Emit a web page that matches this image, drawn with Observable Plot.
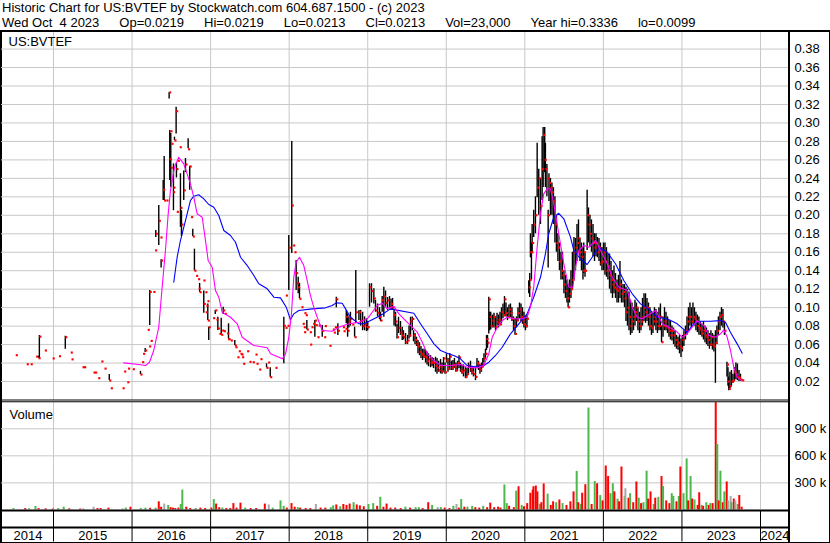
<!DOCTYPE html>
<html><head><meta charset="utf-8">
<script src="https://cdn.jsdelivr.net/npm/d3@7"></script>
<script src="https://cdn.jsdelivr.net/npm/@observablehq/plot@0.6"></script>
<style>
body{margin:0;background:#fff;}
#chart{position:relative;width:830px;height:543px;overflow:hidden;background:#fff;font-family:"Liberation Sans",Arial,sans-serif;color:#000;}
#chart svg{position:absolute;left:0;top:0;}
.hdr{position:absolute;left:2px;font-size:13px;line-height:15px;white-space:pre;}
.hdr span+span{margin-left:20px;}
.box{position:absolute;left:0;top:30px;width:827px;height:510px;border:1px solid #000;border-top-width:2px;border-left-width:2px;}
.sep{position:absolute;left:788px;top:30px;width:2px;height:512px;background:#000;}
</style></head><body><div id="chart"></div>
<script>
const title1 = "Historic Chart for US:BVTEF by Stockwatch.com 604.687.1500 - (c) 2023";
const title2 = "Wed Oct  4 2023  Op=0.0219  Hi=0.0219  Lo=0.0213  Cl=0.0213  Vol=23,000  Year hi=0.3336  lo=0.0099";
const symbolLabel = "US:BVTEF";
const volumeLabel = "Volume";
const priceTicks = [0.02,0.04,0.06,0.08,0.10,0.12,0.14,0.16,0.18,0.20,0.22,0.24,0.26,0.28,0.30,0.32,0.34,0.36,0.38];
const volumeTicks = [300,600,900];
const yearTicks = [2015,2016,2017,2018,2019,2020,2021,2022,2023,2024];
const yearLabels = ["2014","2015","2016","2017","2018","2019","2020","2021","2022","2023","2024"];

// [decimal year, high, low, close]
const ohlc = [
[2014.52,.0485,.0485,.0485],[2014.66,.0387,.0387,.0387],[2014.71,.0387,.0387,.0387],[2014.78,.047,.047,.047],
[2014.81,.0474,.0452,.0452],[2014.82,.0698,.0452,.0686],[2014.89,.0536,.0536,.0536],[2014.99,.045,.045,.045],
[2015.07,.0474,.0474,.0474],[2015.15,.069,.055,.068],[2015.22,.0514,.0514,.0514],[2015.23,.044,.044,.044],
[2015.37,.0355,.0355,.0355],[2015.39,.0355,.0355,.0355],[2015.51,.0297,.0297,.0297],[2015.53,.0297,.0297,.0297],
[2015.57,.0236,.0236,.0236],[2015.61,.0417,.0417,.0417],[2015.65,.034,.034,.034],[2015.71,.0276,.0211,.0211],
[2015.73,.0127,.0127,.0127],[2015.88,.0127,.0127,.0127],[2015.90,.0308,.0308,.0308],[2015.94,.0192,.0192,.0192],
[2015.95,.034,.034,.034],[2016.01,.0333,.0333,.0333],
[2016.107,.031,.0276,.0276],[2016.129,.041,.041,.041],[2016.141,.05,.05,.05],[2016.167,.0557,.0514,.0536],
[2016.200,.076,.076,.076],[2016.218,.058,.058,.058],[2016.225,.1185,.0806,.117],[2016.238,.064,.064,.064],
[2016.272,.117,.117,.117],[2016.294,.162,.162,.162],[2016.302,.1835,.176,.18],[2016.340,.2106,.1673,.194],
[2016.362,.176,.176,.176],[2016.370,.152,.143,.151],[2016.396,.2377,.216,.2276],[2016.409,.2636,.216,.216],
[2016.438,.216,.216,.216],[2016.472,.333,.326,.333],[2016.480,.2918,.2377,.2607],[2016.489,.291,.291,.291],
[2016.493,.2885,.23,.2514],[2016.502,.2774,.2774,.2774],[2016.523,.225,.225,.225],[2016.527,.2557,.205,.23],
[2016.540,.2846,.281,.281],[2016.561,.317,.288,.3127],[2016.565,.2564,.2405,.25],[2016.570,.2037,.2037,.2037],
[2016.582,.259,.259,.259],[2016.607,.2737,.2737,.2737],[2016.616,.245,.187,.208],[2016.629,.205,.177,.19],
[2016.658,.248,.216,.227],[2016.680,.2615,.2463,.255],[2016.714,.283,.272,.2715],[2016.734,.253,.227,.2528],
[2016.752,.198,.198,.198],[2016.773,.185,.177,.177],[2016.794,.1633,.14,.14],[2016.816,.1344,.1344,.1344],
[2016.841,.1308,.1308,.1308],[2016.849,.1207,.1207,.1207],[2016.860,.1262,.1167,.1167],[2016.909,.1294,.1294,.1294],
[2016.913,.118,.094,.104],[2016.934,.1167,.1167,.1167],[2016.938,.095,.095,.095],[2016.947,.102,.102,.102],
[2016.960,.107,.107,.107],[2016.964,.104,.086,.086],[2016.976,.0788,.0644,.0788],
[2017.033,.0886,.0886,.0886],[2017.059,.097,.0925,.097],[2017.075,.087,.087,.087],[2017.092,.0896,.0752,.0774],
[2017.113,.0716,.0716,.0716],[2017.135,.0886,.0706,.0706],[2017.148,.0752,.0752,.0752],[2017.160,.1005,.0925,.097],
[2017.168,.0745,.0745,.0745],[2017.181,.0933,.0933,.0933],[2017.211,.0723,.072,.072],[2017.224,.0658,.0658,.0658],
[2017.228,.0825,.066,.066],[2017.257,.0644,.0644,.0644],[2017.308,.0644,.059,.059],[2017.317,.0571,.0571,.0571],
[2017.342,.0463,.0463,.0463],[2017.359,.0528,.0528,.0528],[2017.381,.05,.05,.05],[2017.393,.0492,.0492,.0492],
[2017.402,.0463,.0463,.0463],[2017.415,.0392,.0392,.0392],[2017.466,.0528,.0528,.0528],[2017.495,.0413,.0413,.0413],
[2017.537,.0409,.0409,.0409],[2017.572,.0492,.0492,.0492],[2017.585,.0392,.0392,.0392],[2017.619,.033,.033,.033],
[2017.635,.0442,.0442,.0442],[2017.712,.0392,.0348,.0348],[2017.733,.0406,.0406,.0406],[2017.759,.0348,.0247,.0247],
[2017.826,.0348,.0348,.0348],[2017.932,.0896,.0392,.0803],[2017.954,.0781,.0781,.0781],[2017.958,.1131,.1131,.1131],
[2017.980,.0803,.0803,.0803],[2017.995,.178,.1185,.165],[2018.033,.28,.1586,.2106],[2018.051,.1673,.1673,.1673],
[2018.068,.16,.16,.16],[2018.089,.151,.1185,.1373],[2018.097,.1264,.1264,.1264],[2018.115,.133,.115,.122],
[2018.131,.1264,.1096,.1096],[2018.157,.1005,.1005,.1005],[2018.173,.0825,.0825,.0825],[2018.186,.0788,.0788,.0788],
[2018.191,.0734,.0734,.0734],[2018.195,.094,.094,.094],[2018.212,.0918,.0918,.0918],[2018.225,.086,.076,.0763],
[2018.263,.0734,.0734,.0734],[2018.268,.06,.06,.06],[2018.285,.0788,.0788,.0788],[2018.306,.0825,.0825,.0825],
[2018.327,.086,.068,.086],[2018.340,.081,.081,.081],[2018.361,.068,.068,.068],[2018.377,.0806,.0806,.0806],
[2018.421,.0806,.068,.075],[2018.446,.068,.068,.068],[2018.454,.08,.08,.08],[2018.514,.0587,.0587,.0587],
[2018.556,.0763,.0763,.0763],[2018.569,.073,.073,.073],[2018.582,.0788,.0788,.0788],[2018.600,.1113,.1,.109],
[2018.620,.0825,.0698,.075],[2018.684,.0788,.0788,.0788],[2018.693,.0745,.0745,.0745],[2018.718,.0771,.0771,.0771],
[2018.727,.0969,.0825,.09],[2018.744,.0933,.068,.075],[2018.760,.09,.078,.085],[2018.780,.095,.08,.088],
[2018.804,.0817,.0817,.0817],[2018.833,.0788,.068,.068],
[2018.848,.1402,.0825,.095],[2018.888,.097,.086,.095],[2018.910,.097,.08,.086],[2018.935,.095,.075,.08],
[2018.960,.09,.075,.082],[2018.985,.088,.074,.079],[2019.000,.085,.075,.0788],[2019.023,.1258,.1005,.122],
[2019.048,.126,.105,.118],[2019.078,.1205,.104,.11],[2019.099,.108,.095,.097],[2019.125,.104,.09,.094],
[2019.150,.1,.087,.09],[2019.163,.095,.085,.086],[2019.184,.112,.095,.108],[2019.205,.122,.0896,.112],
[2019.227,.118,.1,.105],[2019.252,.111,.097,.108],[2019.278,.112,.099,.1],[2019.297,.109,.097,.104],
[2019.316,.11,.097,.1],[2019.335,.097,.08,.092],[2019.354,.095,.079,.085],[2019.373,.082,.066,.068],
[2019.392,.0896,.072,.078],[2019.417,.085,.07,.073],[2019.439,.0788,.0644,.07],[2019.455,.075,.065,.068],
[2019.481,.072,.06,.0625],[2019.507,.07,.06,.0644],[2019.526,.08,.066,.07],[2019.545,.0896,.068,.085],
[2019.567,.09,.075,.0878],[2019.583,.075,.063,.07],[2019.602,.072,.06,.065],[2019.621,.068,.058,.061],
[2019.640,.0644,.05,.058],[2019.659,.062,.048,.052],[2019.678,.058,.045,.05],[2019.698,.055,.0427,.048],
[2019.717,.055,.045,.047],[2019.736,.0536,.04,.046],[2019.755,.052,.038,.042],[2019.774,.05,.036,.044],
[2019.800,.048,.035,.04],[2019.819,.046,.036,.041],[2019.838,.045,.034,.04],[2019.863,.0463,.03,.037],
[2019.882,.045,.028,.035],[2019.902,.042,.03,.032],[2019.927,.044,.0283,.036],[2019.946,.04,.028,.031],
[2019.965,.046,.03,.045],[2019.984,.04,.028,.03],[2020.003,.05,.04,.0427],[2020.022,.045,.03,.034],
[2020.045,.05,.032,.047],[2020.066,.042,.032,.035],[2020.085,.0427,.032,.038],[2020.104,.045,.034,.036],
[2020.123,.04,.03,.032],[2020.143,.042,.031,.04],[2020.162,.048,.034,.046],[2020.181,.04,.03,.032],
[2020.200,.038,.028,.03],[2020.219,.038,.025,.032],[2020.244,.035,.0233,.0247],[2020.263,.034,.025,.028],
[2020.282,.04,.028,.037],[2020.308,.042,.03,.033],[2020.327,.036,.027,.03],[2020.346,.034,.025,.028],
[2020.372,.0355,.021,.025],[2020.391,.045,.035,.04],[2020.410,.042,.032,.038],[2020.429,.038,.028,.033],
[2020.448,.04,.03,.036],[2020.465,.045,.035,.038],[2020.480,.05,.04,.045],[2020.499,.055,.045,.05],
[2020.512,.0698,.0536,.066],[2020.525,.07,.056,.062],[2020.541,.1113,.0715,.109],[2020.554,.095,.075,.09],
[2020.566,.095,.076,.08],[2020.588,.092,.078,.086],[2020.607,.094,.078,.09],[2020.627,.09,.075,.079],
[2020.646,.094,.08,.084],[2020.665,.092,.078,.087],[2020.684,.095,.08,.082],[2020.703,.1,.083,.095],
[2020.722,.104,.088,.092],[2020.741,.112,.09,.109],[2020.760,.105,.09,.094],[2020.779,.1,.086,.09],
[2020.798,.103,.088,.098],[2020.817,.104,.089,.094],[2020.836,.1,.085,.088],[2020.856,.09,.075,.08],
[2020.875,.088,.07,.0716],[2020.894,.09,.078,.086],[2020.913,.1,.085,.094],[2020.932,.105,.088,.098],
[2020.951,.104,.085,.09],[2020.970,.1,.082,.086],[2020.989,.095,.078,.082],[2021.008,.09,.075,.08],
[2021.027,.092,.078,.088],[2021.050,.129,.115,.122],[2021.062,.137,.111,.13],[2021.071,.18,.154,.16],
[2021.084,.17,.13,.16],[2021.093,.19,.16,.17],[2021.113,.2055,.176,.19],[2021.135,.22,.18,.2],
[2021.157,.278,.219,.23],[2021.177,.25,.2,.24],[2021.199,.24,.19,.21],[2021.220,.285,.216,.25],
[2021.233,.295,.23,.287],[2021.253,.295,.246,.26],[2021.262,.278,.23,.25],[2021.281,.255,.22,.24],
[2021.297,.2055,.143,.2],[2021.307,.245,.215,.235],[2021.326,.24,.2,.23],[2021.345,.235,.2,.225],
[2021.364,.23,.19,.215],[2021.383,.22,.17,.19],[2021.402,.2,.16,.17],[2021.421,.18,.15,.165],
[2021.441,.17,.14,.15],[2021.460,.16,.13,.14],[2021.479,.16,.13,.135],[2021.498,.14,.115,.125],
[2021.517,.135,.11,.118],[2021.536,.13,.105,.11],[2021.551,.125,.1,.1004],[2021.568,.13,.105,.115],
[2021.587,.14,.11,.12],[2021.606,.16,.12,.13],[2021.625,.176,.13,.16],[2021.645,.175,.14,.165],
[2021.664,.19,.15,.17],[2021.683,.195,.16,.175],[2021.702,.175,.15,.16],[2021.721,.17,.14,.155],
[2021.740,.165,.13,.14],[2021.750,.17,.137,.16],[2021.766,.16,.133,.14],[2021.793,.227,.162,.2],
[2021.810,.208,.17,.19],[2021.829,.2,.165,.18],[2021.848,.195,.16,.175],[2021.868,.19,.155,.17],
[2021.887,.18,.15,.165],[2021.906,.18,.155,.17],[2021.924,.176,.154,.16],[2021.944,.175,.15,.165],
[2021.963,.17,.145,.148],[2021.982,.165,.14,.15],[2022.001,.17,.14,.16],[2022.020,.17,.135,.15],
[2022.039,.165,.133,.14],[2022.058,.158,.13,.145],[2022.078,.158,.12,.135],[2022.097,.15,.115,.13],
[2022.116,.14,.11,.125],[2022.135,.145,.115,.122],[2022.154,.137,.11,.12],[2022.173,.13,.105,.118],
[2022.192,.135,.105,.12],[2022.211,.15,.11,.125],[2022.230,.13,.105,.115],[2022.250,.125,.105,.117],
[2022.269,.125,.1,.11],[2022.288,.122,.085,.095],[2022.307,.12,.08,.1],[2022.326,.117,.075,.09],
[2022.345,.108,.07,.08],[2022.364,.105,.072,.085],[2022.383,.1,.075,.09],[2022.402,.108,.08,.095],
[2022.421,.105,.085,.1],[2022.440,.1,.075,.085],[2022.460,.095,.072,.08],[2022.479,.1,.075,.085],
[2022.498,.11,.08,.09],[2022.517,.115,.085,.1],[2022.536,.115,.083,.095],[2022.555,.11,.085,.1],
[2022.574,.105,.08,.09],[2022.593,.1,.075,.08],[2022.612,.095,.07,.078],[2022.631,.094,.072,.085],
[2022.650,.1,.08,.09],[2022.669,.098,.075,.085],[2022.688,.095,.072,.08],[2022.707,.1,.075,.08],
[2022.726,.104,.075,.09],[2022.740,.08,.062,.0626],[2022.759,.09,.068,.08],[2022.778,.1,.075,.085],
[2022.797,.095,.075,.08],[2022.816,.09,.072,.078],[2022.835,.086,.068,.075],[2022.854,.085,.065,.07],
[2022.873,.08,.064,.075],[2022.893,.078,.06,.07],[2022.912,.075,.057,.065],[2022.931,.07,.055,.06],
[2022.950,.068,.054,.062],[2022.969,.07,.05,.058],[2022.988,.066,.046,.056],[2023.006,.07,.052,.065],
[2023.025,.075,.058,.07],[2023.045,.08,.065,.075],[2023.064,.09,.07,.085],[2023.083,.1,.075,.09],
[2023.102,.105,.08,.09],[2023.121,.1,.078,.085],[2023.140,.105,.082,.09],[2023.159,.1,.08,.088],
[2023.178,.095,.075,.085],[2023.197,.092,.073,.08],[2023.216,.09,.07,.078],[2023.235,.085,.07,.076],
[2023.255,.082,.068,.072],[2023.274,.085,.065,.075],[2023.293,.08,.062,.07],[2023.312,.078,.06,.068],
[2023.331,.075,.058,.065],[2023.350,.072,.055,.06],[2023.369,.075,.058,.068],[2023.388,.072,.054,.06],
[2023.407,.07,.052,.058],[2023.426,.075,.018,.062],[2023.445,.08,.06,.075],[2023.464,.09,.07,.085],
[2023.484,.095,.075,.09],[2023.503,.1,.08,.092],[2023.522,.098,.078,.085],[2023.541,.085,.07,.075],
[2023.573,.041,.025,.0384],[2023.586,.035,.015,.02],[2023.596,.025,.0099,.012],[2023.611,.03,.012,.015],
[2023.630,.032,.015,.02],[2023.649,.028,.018,.021],[2023.668,.035,.02,.03],[2023.687,.04,.022,.028],
[2023.706,.039,.021,.025],[2023.726,.032,.02,.024],[2023.745,.028,.02,.022],[2023.767,.0219,.0213,.0213]
];

// short moving average (magenta) [decimal year, price]
const maShort = [
[2015.895,.0402],[2016.085,.0384],[2016.171,.0373],[2016.222,.0409],[2016.276,.0536],[2016.340,.0788],[2016.383,.1221],
[2016.425,.1619],[2016.460,.2015],[2016.489,.2268],[2016.540,.252],[2016.594,.2629],[2016.658,.2557],[2016.701,.2449],
[2016.743,.2341],[2016.786,.2196],[2016.829,.2016],[2016.893,.1979],[2016.935,.1726],[2016.969,.151],[2017.020,.1438],
[2017.062,.1185],[2017.104,.1113],[2017.148,.095],[2017.253,.0896],[2017.339,.0825],[2017.402,.068],[2017.550,.059],
[2017.721,.0565],[2017.763,.05],[2017.869,.0463],[2017.912,.0446],[2017.954,.05],[2017.996,.068],[2018.029,.0933],
[2018.059,.133],[2018.089,.1492],[2018.131,.1546],[2018.186,.1456],[2018.229,.1294],[2018.271,.1131],[2018.313,.1005],
[2018.357,.0896],[2018.421,.0752],[2018.548,.0745],[2018.632,.0788],[2018.759,.0825],[2018.888,.0842],[2018.994,.0879],
[2019.121,.1023],[2019.185,.1048],[2019.249,.0987],[2019.333,.1015],[2019.397,.0933],[2019.482,.086],[2019.567,.0788],
[2019.631,.0734],[2019.695,.0626],[2019.758,.05],[2019.843,.0427],[2019.929,.0373],[2020.054,.0373],[2020.181,.0384],
[2020.266,.0355],[2020.394,.0348],[2020.478,.0373],[2020.542,.05],[2020.585,.068],[2020.649,.0788],[2020.712,.086],
[2020.776,.0896],[2020.860,.0879],[2020.967,.0879],[2021.029,.0896],[2021.071,.1005],[2021.113,.1221],[2021.157,.1654],
[2021.199,.2016],[2021.241,.2232],[2021.284,.2287],[2021.326,.2287],[2021.369,.2124],[2021.432,.18],[2021.496,.1475],
[2021.560,.1221],[2021.611,.1221],[2021.645,.1438],[2021.687,.1619],[2021.751,.1673],[2021.815,.1654],[2021.900,.1727],
[2021.964,.1619],[2022.049,.1475],[2022.113,.1329],[2022.197,.1221],[2022.304,.1185],[2022.368,.1005],[2022.431,.0896],
[2022.495,.0879],[2022.559,.0915],[2022.665,.0969],[2022.750,.0825],[2022.834,.0788],[2022.919,.0752],[2023.003,.068],
[2023.066,.0717],[2023.130,.0788],[2023.194,.086],[2023.278,.0806],[2023.342,.0698],[2023.427,.068],[2023.490,.0717],
[2023.533,.076],[2023.576,.068],[2023.618,.0536],[2023.660,.0355],[2023.703,.0247],[2023.745,.0218]
];

// long moving average (blue) [decimal year, price]
const maLong = [
[2016.531,.1275],[2016.574,.1546],[2016.616,.1727],[2016.680,.1943],[2016.743,.216],[2016.786,.2207],[2016.849,.2222],
[2016.913,.2178],[2016.977,.2117],[2017.041,.2087],[2017.104,.1998],[2017.168,.1835],[2017.253,.1781],[2017.317,.1708],
[2017.381,.1546],[2017.466,.1456],[2017.550,.1348],[2017.614,.1258],[2017.721,.1204],[2017.805,.1113],[2017.890,.1106],
[2017.963,.1005],[2018.017,.0868],[2018.059,.0933],[2018.123,.0969],[2018.293,.0987],[2018.462,.0998],[2018.548,.1023],
[2018.599,.1052],[2018.675,.1048],[2018.718,.0987],[2018.781,.0896],[2018.888,.0825],[2018.950,.0825],[2019.036,.086],
[2019.163,.0915],[2019.290,.0987],[2019.354,.0976],[2019.587,.094],[2019.672,.0825],[2019.758,.0717],[2019.843,.0608],
[2019.927,.0536],[2020.012,.0506],[2020.096,.0482],[2020.181,.0446],[2020.266,.0373],[2020.351,.0362],[2020.478,.0373],
[2020.542,.0409],[2020.627,.0482],[2020.712,.0571],[2020.818,.0717],[2020.924,.0825],[2021.029,.0933],[2021.113,.1113],
[2021.199,.1329],[2021.262,.1583],[2021.304,.18],[2021.368,.1979],[2021.432,.2022],[2021.496,.1962],[2021.581,.1763],
[2021.623,.1619],[2021.708,.1529],[2021.793,.1467],[2021.857,.1546],[2021.941,.1654],[2022.048,.16],[2022.154,.1475],
[2022.260,.1294],[2022.367,.115],[2022.473,.1041],[2022.578,.0987],[2022.685,.0896],[2022.813,.0879],[2022.940,.0825],
[2023.066,.0734],[2023.150,.0825],[2023.235,.0853],[2023.363,.0853],[2023.490,.086],[2023.554,.0842],[2023.617,.0734],
[2023.703,.0608],[2023.767,.0506]
];

// volume [decimal year, thousands of shares, r=down g=up n=unchanged]
const volume = [
[2014.49,15,"g"],[2014.64,15,"r"],[2014.69,12,"g"],[2014.77,38,"g"],[2014.81,15,"r"],[2014.90,12,"r"],[2014.99,10,"r"],
[2015.06,15,"g"],[2015.13,30,"g"],[2015.20,12,"r"],[2015.34,10,"r"],[2015.38,12,"n"],[2015.51,30,"n"],[2015.56,15,"r"],
[2015.60,15,"r"],[2015.70,20,"r"],[2015.88,12,"n"],[2015.92,20,"g"],[2015.98,30,"r"],[2016.11,15,"g"],[2016.17,20,"g"],
[2016.23,18,"r"],[2016.30,20,"g"],[2016.34,90,"r"],[2016.37,30,"r"],[2016.41,65,"n"],[2016.46,50,"g"],[2016.49,25,"r"],
[2016.52,20,"r"],[2016.55,15,"r"],[2016.59,20,"r"],[2016.62,60,"g"],[2016.64,220,"g"],[2016.69,30,"r"],[2016.74,15,"r"],
[2016.81,15,"g"],[2016.87,20,"r"],[2016.93,15,"r"],[2017.01,20,"r"],[2017.04,115,"g"],[2017.07,65,"r"],[2017.11,25,"r"],
[2017.15,20,"g"],[2017.20,15,"r"],[2017.25,15,"r"],[2017.29,70,"r"],[2017.33,20,"r"],[2017.38,75,"r"],[2017.44,20,"g"],
[2017.51,15,"r"],[2017.58,15,"r"],[2017.69,65,"r"],[2017.74,55,"n"],[2017.79,20,"g"],[2017.89,100,"g"],[2017.93,40,"g"],
[2017.97,20,"r"],[2018.03,70,"r"],[2018.07,30,"r"],[2018.11,25,"g"],[2018.14,20,"r"],[2018.21,15,"r"],[2018.27,15,"r"],
[2018.34,60,"n"],[2018.40,20,"r"],[2018.46,20,"r"],[2018.53,25,"g"],[2018.56,45,"g"],[2018.60,55,"r"],[2018.65,35,"g"],
[2018.69,60,"r"],[2018.73,50,"r"],[2018.77,65,"r"],[2018.82,80,"g"],[2018.86,55,"r"],[2018.90,45,"r"],[2018.95,35,"r"],
[2019.01,60,"g"],[2019.07,70,"g"],[2019.12,40,"r"],[2019.16,140,"g"],[2019.20,30,"r"],[2019.24,65,"r"],[2019.29,20,"r"],
[2019.35,20,"r"],[2019.42,15,"r"],[2019.48,30,"g"],[2019.54,20,"r"],[2019.61,25,"g"],[2019.65,25,"g"],[2019.70,15,"r"],
[2019.77,80,"r"],[2019.82,50,"g"],[2019.89,25,"n"],[2019.93,25,"g"],[2019.98,20,"r"],[2020.04,15,"r"],[2020.09,40,"g"],
[2020.13,60,"n"],[2020.16,20,"r"],[2020.19,115,"g"],[2020.23,30,"r"],[2020.27,30,"g"],[2020.33,40,"g"],[2020.37,25,"r"],
[2020.42,20,"r"],[2020.47,40,"g"],[2020.52,25,"r"],[2020.56,75,"r"],[2020.61,25,"r"],[2020.66,30,"r"],[2020.69,20,"r"],
[2020.74,277,"g"],[2020.77,70,"g"],[2020.80,40,"r"],[2020.86,25,"r"],[2020.89,208,"g"],[2020.92,257,"r"],[2020.96,50,"g"],
[2020.99,35,"r"],[2021.03,70,"r"],[2021.07,185,"r"],[2021.10,220,"r"],[2021.11,257,"r"],[2021.14,265,"r"],[2021.16,200,"r"],
[2021.19,60,"g"],[2021.21,80,"r"],[2021.24,288,"r"],[2021.29,175,"g"],[2021.33,50,"r"],[2021.36,90,"r"],[2021.40,80,"g"],
[2021.44,110,"r"],[2021.48,70,"g"],[2021.53,50,"r"],[2021.58,90,"r"],[2021.62,200,"r"],[2021.66,427,"g"],[2021.68,80,"r"],
[2021.71,60,"g"],[2021.73,185,"r"],[2021.77,280,"r"],[2021.81,1130,"g"],[2021.85,60,"r"],[2021.89,315,"g"],[2021.92,290,"r"],
[2021.96,160,"g"],[2021.99,100,"r"],[2022.03,487,"r"],[2022.06,370,"r"],[2022.09,180,"g"],[2022.12,290,"g"],[2022.14,200,"r"],
[2022.18,120,"g"],[2022.20,90,"r"],[2022.23,476,"r"],[2022.27,150,"g"],[2022.28,235,"n"],[2022.32,130,"r"],[2022.34,180,"g"],
[2022.38,80,"r"],[2022.42,310,"r"],[2022.45,130,"g"],[2022.48,70,"r"],[2022.51,80,"g"],[2022.55,430,"g"],[2022.57,120,"r"],
[2022.60,200,"r"],[2022.64,60,"g"],[2022.66,130,"r"],[2022.70,140,"g"],[2022.74,370,"r"],[2022.76,260,"g"],[2022.80,100,"r"],
[2022.84,70,"r"],[2022.87,180,"g"],[2022.89,150,"g"],[2022.93,90,"r"],[2022.96,150,"g"],[2022.98,476,"r"],[2023.02,180,"g"],
[2023.06,566,"g"],[2023.08,100,"r"],[2023.11,370,"g"],[2023.13,120,"r"],[2023.16,110,"g"],[2023.20,50,"r"],[2023.22,190,"r"],
[2023.25,50,"g"],[2023.27,40,"r"],[2023.31,80,"g"],[2023.34,50,"r"],[2023.36,70,"g"],[2023.39,70,"r"],[2023.43,1190,"r"],
[2023.45,727,"g"],[2023.47,100,"r"],[2023.49,430,"g"],[2023.52,80,"r"],[2023.54,200,"g"],[2023.57,310,"r"],[2023.59,100,"n"],
[2023.62,150,"n"],[2023.63,80,"g"],[2023.66,120,"r"],[2023.68,100,"n"],[2023.71,60,"g"],[2023.73,160,"r"],[2023.76,30,"r"]
];

const volColors = {r: "#ff0000", g: "#4cb84c", n: "#a8a8a8"};
const GRID = "#c8c8c8";
const W = 830, H = 543;
const FONT = "Liberation Sans, Arial, sans-serif";
const X = {type: "linear", domain: [2015, 2024], range: [53, 760], axis: null};
const baseStyle = {background: "transparent", overflow: "visible", fontFamily: FONT, fontSize: "13px", color: "#000"};

const chart = document.getElementById("chart");
chart.insertAdjacentHTML("beforeend", `<div class="box"></div>`);
const h1 = document.createElement("div"); h1.className = "hdr"; h1.style.top = "0px"; h1.textContent = title1; chart.appendChild(h1);
const h2 = document.createElement("div"); h2.className = "hdr"; h2.style.top = "15px";
title2.split(/  (?=[A-Za-z])/).forEach(part => { const s = document.createElement("span"); s.textContent = part; h2.appendChild(s); });
chart.appendChild(h2);

// price panel
const price = Plot.plot({
  width: W, height: H, marginLeft: 1, marginRight: 41, marginTop: 32, marginBottom: 143,
  x: X,
  y: {domain: [0, 0.4], range: [399.5, 30.1], axis: null},
  style: baseStyle,
  marks: [
    Plot.ruleY(priceTicks, {stroke: GRID}),
    Plot.ruleX(yearTicks, {stroke: GRID}),
    Plot.ruleX(ohlc, {x: d => d[0], y1: d => d[2], y2: d => d[1], stroke: "#000", strokeWidth: 1.4}),
    Plot.dot(ohlc, {x: d => d[0], y: d => d[3], symbol: "square", r: 1.2, fill: "#ff0000", dx: 1}),
    Plot.line(maLong, {x: d => d[0], y: d => d[1], stroke: "#0000ff", strokeWidth: 1.1}),
    Plot.line(maShort, {x: d => d[0], y: d => d[1], stroke: "#ff00ff", strokeWidth: 1.1}),
    Plot.ruleY([0], {stroke: "#000"}),
    Plot.axisY({anchor: "right", ticks: priceTicks, tickFormat: d3.format(".2f"), tickSize: 0, tickPadding: 5, label: null, fontSize: 13, fill: "#000"}),
    Plot.text([symbolLabel], {text: d => d, frameAnchor: "top-left", textAnchor: "start", lineAnchor: "top", dx: 7, dy: 4.5, fontSize: 13, fill: "#000"})
  ]
});
chart.appendChild(price);

// volume panel
const vol = Plot.plot({
  width: W, height: H, marginLeft: 1, marginRight: 41, marginTop: 402, marginBottom: 34,
  x: X,
  y: {domain: [0, 900], range: [509.4, 428.3], axis: null},
  style: baseStyle,
  marks: [
    Plot.ruleY(volumeTicks, {stroke: GRID}),
    Plot.ruleX(yearTicks, {stroke: GRID}),
    Plot.ruleX(volume, {x: d => d[0], y1: 0, y2: d => d[1], stroke: d => volColors[d[2]], strokeWidth: 2}),
    Plot.ruleY([1200], {stroke: "#000"}),
    Plot.axisY({anchor: "right", ticks: volumeTicks, tickFormat: d => d + " k", tickSize: 0, tickPadding: 5, label: null, fontSize: 13, fill: "#000"}),
    Plot.text([volumeLabel], {text: d => d, frameAnchor: "top-left", textAnchor: "start", lineAnchor: "top", dx: 8, dy: 7, fontSize: 13, fill: "#000"})
  ]
});
chart.appendChild(vol);

// time axis rows
const sx = Plot.scale({x: {type: "linear", domain: X.domain, range: X.range}});
const tLo = sx.invert(2), tHi = sx.invert(789);
const yearCells = yearLabels.map(s => {
  const y = +s, a = Math.max(y, tLo), b = Math.min(y + 1, tHi);
  return {label: s, mid: (a + b) / 2};
});
const time = Plot.plot({
  width: W, height: H, marginLeft: 1, marginRight: 41, marginTop: 509, marginBottom: 1,
  x: X,
  y: {domain: [0, 1], range: [541.5, 510], axis: null},
  style: baseStyle,
  marks: [
    Plot.ruleX(yearTicks, {y1: 0, y2: 1, stroke: "#000"}),
    Plot.ruleY([1], {stroke: "#000", strokeWidth: 2}),
    Plot.ruleY([0.46], {stroke: "#000", strokeWidth: 2}),
    Plot.text(yearCells, {x: "mid", y: 0.2, text: "label", fontSize: 13, fill: "#000"})
  ]
});
chart.appendChild(time);
chart.insertAdjacentHTML("beforeend", `<div class="sep"></div>`);
</script></body></html>
